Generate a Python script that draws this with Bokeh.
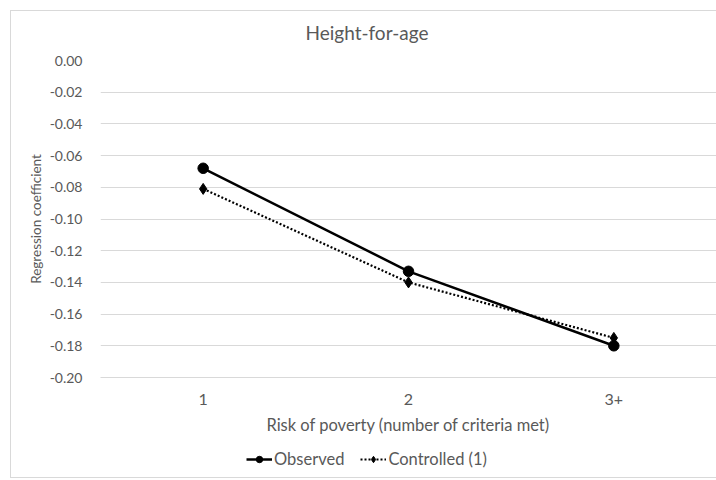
from bokeh.plotting import figure
from bokeh.layouts import column
from bokeh.models import (ColumnDataSource, FixedTicker, NumeralTickFormatter,
                          Legend, LegendItem, Range1d, FactorRange, Label)
from bokeh.embed import file_html
from bokeh.resources import INLINE

categories = ["1", "2", "3+"]
observed = [-0.068, -0.133, -0.180]
controlled = [-0.081, -0.140, -0.175]
y_ticks = [0.0, -0.02, -0.04, -0.06, -0.08, -0.10, -0.12, -0.14, -0.16, -0.18, -0.20]
series_names = ["Observed", "Controlled (1)"]
chart_title = "Height-for-age"

FONT = "Lato"
TXT = "#595959"
GRID = "#d9d9d9"

src = ColumnDataSource(dict(x=categories, obs=observed, ctl=controlled))

# title strip
pt = figure(width=705, height=40, output_backend="svg", toolbar_location=None,
            x_range=Range1d(0, 1), y_range=Range1d(0, 1),
            x_axis_type=None, y_axis_type=None, min_border=0)
pt.outline_line_color = None
pt.xgrid.grid_line_color = None
pt.ygrid.grid_line_color = None
pt.border_fill_color = "white"
pt.add_layout(Label(x=205, y=19, x_units="screen", y_units="screen",
                    text=chart_title, text_font=FONT, text_font_size="19px",
                    text_color=TXT, text_align="left", text_baseline="middle"))

p = figure(width=705, height=390, output_backend="svg", toolbar_location=None,
           x_range=FactorRange(factors=categories, range_padding=0),
           y_range=Range1d(-0.20, 0.0),
           min_border_left=89, min_border_top=9, min_border_bottom=64,
           min_border_right=0)
p.outline_line_color = None
p.background_fill_color = "white"
p.border_fill_color = "white"

p.xgrid.grid_line_color = None
p.ygrid.grid_line_color = GRID
p.ygrid.grid_line_width = 1

p.yaxis.ticker = FixedTicker(ticks=y_ticks)
p.yaxis.formatter = NumeralTickFormatter(format="0.00")
p.yaxis.axis_line_color = None
p.yaxis.major_tick_line_color = None
p.yaxis.minor_tick_line_color = None
p.yaxis.major_label_standoff = 12
p.yaxis.axis_label = "Regression coefficient"
p.yaxis.axis_label_standoff = 3
p.yaxis.axis_label_text_font = FONT
p.yaxis.axis_label_text_font_style = "normal"
p.yaxis.axis_label_text_font_size = "13.5px"
p.yaxis.axis_label_text_color = TXT
p.yaxis.major_label_text_font = FONT
p.yaxis.major_label_text_font_size = "14px"
p.yaxis.major_label_text_color = TXT

p.xaxis.axis_line_color = GRID
p.xaxis.major_tick_line_color = None
p.xaxis.minor_tick_line_color = None
p.xaxis.major_label_standoff = 10
p.xaxis.axis_label = "Risk of poverty (number of criteria met)"
p.xaxis.axis_label_standoff = 7
p.xaxis.axis_label_text_font = FONT
p.xaxis.axis_label_text_font_style = "normal"
p.xaxis.axis_label_text_font_size = "16.5px"
p.xaxis.axis_label_text_color = TXT
p.xaxis.major_label_text_font = FONT
p.xaxis.major_label_text_font_size = "16px"
p.xaxis.major_label_text_color = TXT

p.line("x", "obs", source=src, line_color="black", line_width=2.5)
p.scatter("x", "obs", source=src, marker="circle", size=10.5,
          fill_color="black", line_color="black")
p.line("x", "ctl", source=src, line_color="black", line_width=2.2,
       line_dash="2 2")
p.scatter("x", "ctl", source=src, marker="diamond", size=11,
          fill_color="black", line_color="black")

# legend strip below the chart (its glyph renderers sit outside the visible range)
pl = figure(width=705, height=36, output_backend="svg", toolbar_location=None,
            x_range=Range1d(0, 1), y_range=Range1d(0, 1),
            x_axis_type=None, y_axis_type=None, min_border=0)
pl.outline_line_color = None
pl.xgrid.grid_line_color = None
pl.ygrid.grid_line_color = None
pl.border_fill_color = "white"
hidden = ColumnDataSource(dict(x=[5, 6], y=[5, 5]))
a1 = pl.line("x", "y", source=hidden, line_color="black", line_width=2.5)
b1 = pl.scatter("x", "y", source=hidden, marker="circle", size=9,
                fill_color="black", line_color="black")
a2 = pl.line("x", "y", source=hidden, line_color="black", line_width=2.0,
             line_dash="2 2")
b2 = pl.scatter("x", "y", source=hidden, marker="diamond", size=10,
                fill_color="black", line_color="black")
legend = Legend(items=[LegendItem(label=series_names[0], renderers=[a1, b1]),
                       LegendItem(label=series_names[1], renderers=[a2, b2])],
                orientation="horizontal", location=(146, 8),
                label_text_font=FONT, label_text_font_size="16.5px",
                label_text_color=TXT, background_fill_alpha=0,
                border_line_color=None, glyph_width=26, glyph_height=16,
                label_standoff=2, spacing=16, padding=0, margin=0)
pl.add_layout(legend, "center")

layout = column(pt, p, pl, spacing=0)
layout.styles = {"position": "relative", "left": "10px", "top": "10px",
                 "border-left": "1px solid #d9d9d9", "border-top": "1px solid #d9d9d9",
                 "border-bottom": "1px solid #d9d9d9"}

open("out.html", "w").write(file_html(layout, INLINE))
